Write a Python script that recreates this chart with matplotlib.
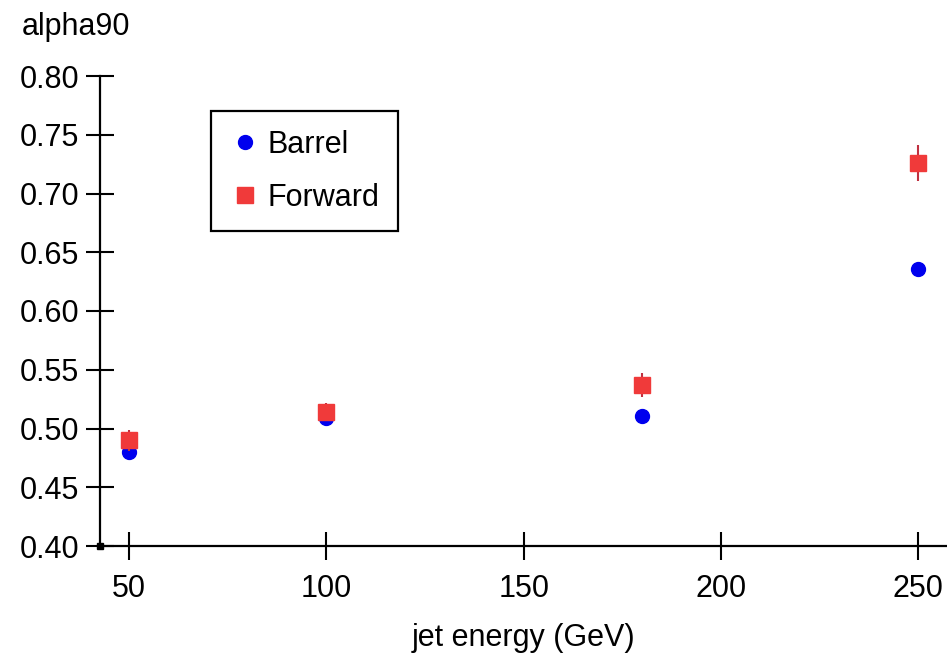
import matplotlib
matplotlib.use("Agg")
import matplotlib.pyplot as plt

energy = [50, 100, 180, 250]
barrel = [0.480, 0.509, 0.511, 0.636]
barrel_err = [0.003, 0.003, 0.003, 0.004]
forward = [0.490, 0.514, 0.537, 0.726]
forward_err = [0.009, 0.008, 0.010, 0.015]

plt.rcParams['font.family'] = ['Liberation Sans', 'DejaVu Sans']
fs = 22

fig = plt.figure(figsize=(9.47, 6.59), dpi=100)
ax = fig.add_axes([100/947, 1-546/659, 847/947, (546-76)/659])

eb1 = ax.errorbar(energy, barrel, yerr=barrel_err, fmt='o', color='#0000ee', ecolor='#0000ee',
                  markersize=10, elinewidth=1.5, capsize=0, label='Barrel', zorder=3)
eb2 = ax.errorbar(energy, forward, yerr=forward_err, fmt='s', color='#f03a3a', ecolor='#c03040',
                  markersize=11, elinewidth=1.5, capsize=0, label='Forward', zorder=4)

ax.set_xlim(42.6, 257.3)
ax.set_ylim(0.40, 0.80)
ax.set_xticks([50, 100, 150, 200, 250])
ax.set_yticks([0.40, 0.45, 0.50, 0.55, 0.60, 0.65, 0.70, 0.75, 0.80])
ax.set_yticklabels([f"{v:.2f}" for v in ax.get_yticks()])

for s in ['top', 'right']:
    ax.spines[s].set_visible(False)
for s in ['left', 'bottom']:
    ax.spines[s].set_linewidth(1.6)
    ax.spines[s].set_color('black')

ax.tick_params(axis='both', direction='inout', length=20, width=1.5, labelsize=fs, colors='black')
ax.tick_params(axis='y', pad=5)
ax.tick_params(axis='x', pad=10)

ax.plot([0], [0], 's', color='black', markersize=4, transform=ax.transAxes, clip_on=False, zorder=5)

fig.text(22/947, 1-35/659, 'alpha90', fontsize=fs, ha='left', va='baseline')
ax.set_xlabel('jet energy (GeV)', fontsize=fs, labelpad=14)

leg = ax.legend(handles=[eb1[0], eb2[0]], labels=['Barrel', 'Forward'],
                loc='upper left', bbox_to_anchor=(0.131, 0.925), fontsize=fs, frameon=True,
                fancybox=False, edgecolor='black', framealpha=1, handletextpad=0.25,
                borderpad=0.6, labelspacing=0.75, handlelength=1.0, borderaxespad=0)
leg.get_frame().set_linewidth(1.6)

fig.savefig('out.png', dpi=100)
